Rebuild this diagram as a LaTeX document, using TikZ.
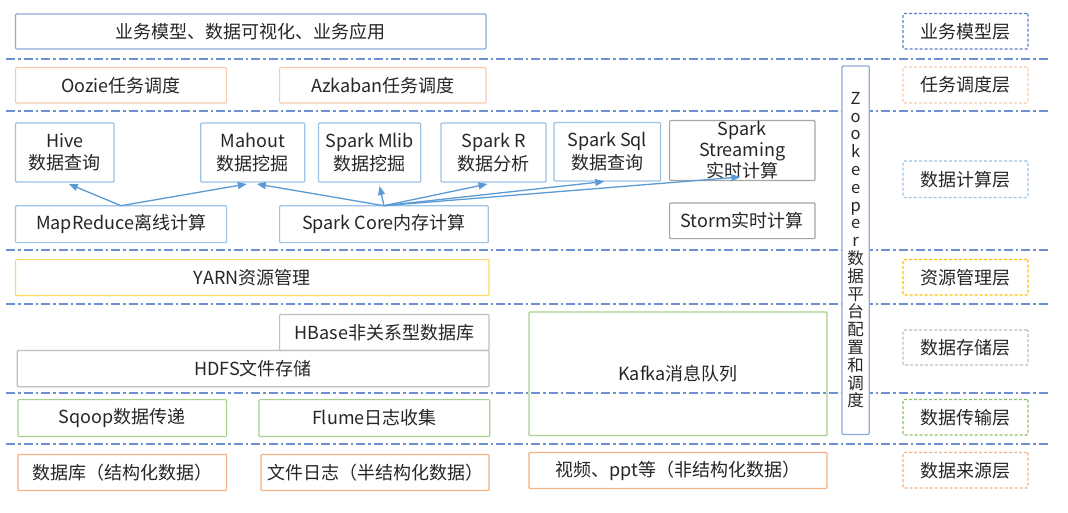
\documentclass[tikz,border=0pt]{standalone}
\usepackage{fontspec}
\setmainfont{Noto Sans CJK SC}
\usetikzlibrary{arrows.meta,calc}
\definecolor{txt}{HTML}{262626}
\definecolor{cline}{HTML}{6F8FD3}
\definecolor{cblue}{HTML}{8FAADC}
\definecolor{cdblue}{HTML}{5B7FCC}
\definecolor{cpeach}{HTML}{F8CBAD}
\definecolor{clblue}{HTML}{9DC3E6}
\definecolor{cgray}{HTML}{A6A6A6}
\definecolor{clgray}{HTML}{BFBFBF}
\definecolor{cgold}{HTML}{FFD966}
\definecolor{cdgold}{HTML}{FFC000}
\definecolor{cgreen}{HTML}{A9D18E}
\definecolor{cdgreen}{HTML}{8CC068}
\definecolor{corange}{HTML}{F4B183}
\definecolor{carrow}{HTML}{5B9BD5}
\begin{document}
\begin{tikzpicture}[x=1pt,y=-1pt,
  box/.style={draw, line width=1.2pt, rounded corners=1pt, inner sep=0pt, outer sep=0pt,
    align=center, text=txt, font=\fontsize{18}{22.5}\selectfont},
  lbl/.style={box, dash pattern=on 3pt off 2pt, minimum width=125pt},
  sepline/.style={draw=cline, line width=1.7pt, dash pattern=on 9pt off 3pt on 2.5pt off 3pt},
  arr/.style={draw=carrow, line width=1.3pt, -{Triangle[length=9pt,width=7pt]}}]
\useasboundingbox[fill=white] (0,0) rectangle (1068,513);
% layer separators
\foreach \yy in {59,111,250,304,393,444}
  \path[sepline] (6,\yy) -- (1048,\yy);
% business layer
\node[box, draw=cblue, minimum width=470.5pt, minimum height=35pt] (app) at (250.75,31.5) {业务模型、数据可视化、业务应用};
% scheduling
\node[box, draw=cpeach, minimum width=211.1pt, minimum height=35.5pt] (oozie) at (121.05,85.25) {Oozie任务调度};
\node[box, draw=cpeach, minimum width=206.4pt, minimum height=35.5pt] (azkaban) at (382.8,85.25) {Azkaban任务调度};
% computing
\node[box, draw=clblue, minimum width=98.5pt, minimum height=59pt] (hive) at (64.75,152.5) {Hive\\数据查询};
\node[box, draw=clblue, minimum width=104pt, minimum height=59pt] (mahout) at (252.8,152.5) {Mahout\\数据挖掘};
\node[box, draw=clblue, minimum width=102.3pt, minimum height=59pt] (mlib) at (369.65,152.5) {Spark Mlib\\数据挖掘};
\node[box, draw=clblue, minimum width=105pt, minimum height=59pt] (sparkr) at (493.5,152.5) {Spark R\\数据分析};
\node[box, draw=clblue, minimum width=106.5pt, minimum height=58.5pt] (sparksql) at (607.25,151.75) {Spark Sql\\数据查询};
\node[box, draw=cgray, minimum width=145.4pt, minimum height=60pt, font=\fontsize{18}{21}\selectfont] (streaming) at (742.3,150.5) {Spark\\Streaming\\实时计算};
\node[box, draw=clblue, minimum width=211.1pt, minimum height=36.9pt] (mapreduce) at (121.05,224.15) {MapReduce离线计算};
\node[box, draw=clblue, minimum width=208.7pt, minimum height=36.9pt] (sparkcore) at (383.95,224.15) {Spark Core内存计算};
\node[box, draw=cgray, minimum width=145.4pt, minimum height=35.6pt] (storm) at (742.3,220.8) {Storm实时计算};
% resource
\node[box, draw=cgold, minimum width=473.5pt, minimum height=35.9pt] (yarn) at (252.25,277.55) {YARN资源管理};
% storage
\node[box, draw=clgray, minimum width=209.4pt, minimum height=36.1pt] (hbase) at (384.3,332.45) {HBase非关系型数据库};
\node[box, draw=clgray, minimum width=471.8pt, minimum height=36.2pt] (hdfs) at (253.1,368.6) {HDFS文件存储};
\node[box, draw=cgreen, minimum width=298pt, minimum height=123.5pt] (kafka) at (678,373.75) {Kafka消息队列};
% transport
\node[box, draw=cgreen, minimum width=208.7pt, minimum height=36.9pt] (sqoop) at (122.25,418.05) {Sqoop数据传递};
\node[box, draw=cgreen, minimum width=230.7pt, minimum height=36.9pt] (flume) at (374.35,418.05) {Flume日志收集};
% sources
\node[box, draw=corange, minimum width=208.7pt, minimum height=36.1pt] (db) at (122.25,472.45) {数据库（结构化数据）};
\node[box, draw=corange, minimum width=228pt, minimum height=36.1pt] (file) at (375,472.45) {文件日志（半结构化数据）};
\node[box, draw=corange, minimum width=298pt, minimum height=36pt] (video) at (678,470.5) {视频、ppt等（非结构化数据）};
% zookeeper
\node[box, draw=cblue, fill=white, minimum width=27.3pt, minimum height=368.5pt,
  font=\fontsize{16.5}{17.8}\selectfont] (zk) at (855.65,250.25)
  {Z\\o\\o\\k\\e\\e\\p\\e\\r\\数\\据\\平\\台\\配\\置\\和\\调\\度};
% layer labels
\node[lbl, draw=cdblue, minimum height=35.5pt] (l1) at (965.5,31.25) {业务模型层};
\node[lbl, draw=cpeach, minimum height=36pt] (l2) at (965.5,85) {任务调度层};
\node[lbl, draw=clblue, minimum height=36.5pt] (l3) at (965.5,179.25) {数据计算层};
\node[lbl, draw=cdgold, minimum height=35.5pt] (l4) at (965.5,277.25) {资源管理层};
\node[lbl, draw=clgray, minimum height=35pt] (l5) at (965.5,347.5) {数据存储层};
\node[lbl, draw=cdgreen, minimum height=35.5pt] (l6) at (965.5,417.25) {数据传输层};
\node[lbl, draw=corange, minimum height=35.5pt] (l7) at (965.5,470.25) {数据来源层};
% arrows
\draw[arr] (mapreduce.north) -- ($(hive.south)+(4,2)$);
\draw[arr] (mapreduce.north) -- ($(mahout.south)+(-6,2)$);
\draw[arr] (sparkcore.north) -- ($(mahout.south)+(4,2)$);
\draw[arr] (sparkcore.north) -- ($(mlib.south)+(10,4)$);
\draw[arr] (sparkcore.north) -- ($(sparkr.south)+(-6,2)$);
\draw[arr] (sparkcore.north) -- ($(sparksql.south)+(-3,0.5)$);
\draw[arr] (sparkcore.north) -- ($(streaming.south)+(-2,-3.5)$);
\end{tikzpicture}
\end{document}
